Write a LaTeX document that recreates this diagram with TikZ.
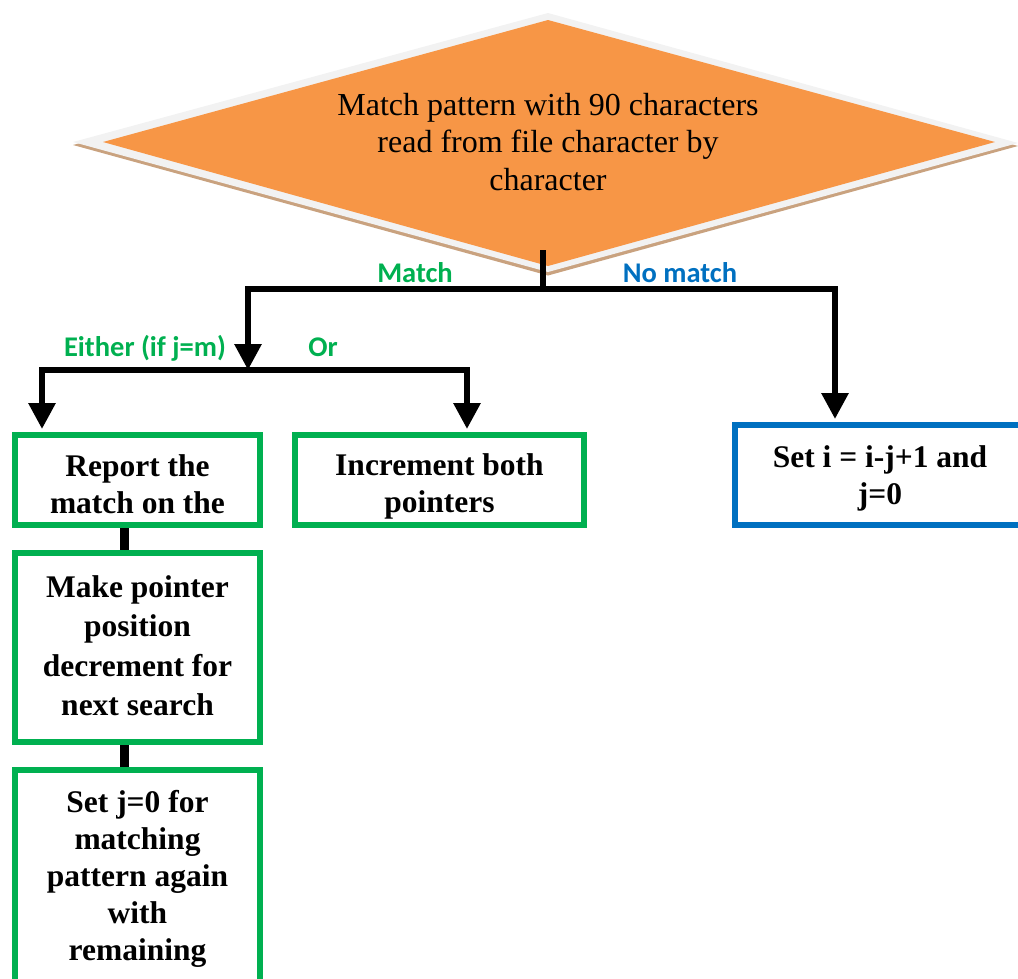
\documentclass[tikz,border=0pt]{standalone}
\usepackage{fontspec}
\setmainfont{Liberation Serif}
\newfontfamily\lblfont{Carlito}
\usetikzlibrary{arrows.meta}
\definecolor{dorange}{HTML}{F79646}
\definecolor{dedge}{HTML}{F2F2F2}
\definecolor{dshadow}{HTML}{C9A27F}
\definecolor{boxgreen}{HTML}{00B050}
\definecolor{boxblue}{HTML}{0070C0}
\begin{document}
\begin{tikzpicture}[x=1pt,y=-1pt,
  box/.style={draw, line width=6pt, inner sep=0pt},
  gbox/.style={box, draw=boxgreen},
  bbox/.style={box, draw=boxblue},
  boxtext/.style={align=center, inner sep=0pt, font=\fontsize{31.5}{37}\selectfont\bfseries},
  conn/.style={line width=6pt, -{Triangle[width=26pt,length=26pt]}},
  plain/.style={line width=6pt},
  lbl/.style={font=\lblfont\bfseries\fontsize{28.5}{32}\selectfont, anchor=base, inner sep=0pt}
]
\useasboundingbox (0,0) rectangle (1018,978);
% decision diamond
\fill[dshadow] (548,16) -- (1018,146) -- (548,275.5) -- (73,145) -- cycle;
\fill[dedge] (548,13) -- (1018,143) -- (548,272) -- (73,142) -- cycle;
\fill[dorange] (548,20) -- (995,142) -- (548,266) -- (103,142) -- cycle;
\node[font=\fontsize{32}{37.5}\selectfont, align=center, inner sep=0pt] (q) at (548,142)
  {Match pattern with 90 characters\\read from file character by\\character};
% boxes
\node[gbox, minimum width=245pt, minimum height=90pt] (report) at (137.5,480) {};
\node[boxtext] (reportt) at ([yshift=-4pt]report.center) {Report the\\match on the};
\node[gbox, minimum width=289pt, minimum height=90pt] (incr) at (439.5,480) {};
\node[boxtext] (incrt) at ([yshift=-6.5pt]incr.center) {Increment both\\pointers};
\node[bbox, minimum width=290pt, minimum height=100pt] (reset) at (880,475) {};
\node[boxtext] (resett) at ([yshift=-3pt]reset.center) {Set i = i-j+1 and\\j=0};
\node[gbox, minimum width=245pt, minimum height=189pt] (make) at (137.5,647.5) {};
\node[boxtext, font=\fontsize{31.5}{39.5}\selectfont\bfseries] (maket) at ([yshift=2pt]make.center)
  {Make pointer\\position\\decrement for\\next search};
\node[gbox, minimum width=245pt, minimum height=220pt] (setj) at (137.5,880) {};
\node[boxtext] (setjt) at ([yshift=1pt]setj.center)
  {Set j=0 for\\matching\\pattern again\\with\\remaining};
% connectors
\coordinate (stem) at (543,250);
\coordinate (j1) at (543,289);
\coordinate (j2) at (248,370);
\draw[plain] (stem) -- (j1);
\draw[conn] (j1) -| (j2);
\draw[conn] (j1) -| ([xshift=-45pt,yshift=3pt]reset.north);
\draw[conn] (j2) -| ([xshift=-95.5pt,yshift=3pt]report.north);
\draw[conn] (j2) -| ([xshift=27.5pt,yshift=3pt]incr.north);
\draw[line width=9pt] ([xshift=-13.5pt]report.south) -- ([xshift=-13.5pt]make.north);
\draw[line width=9pt] ([xshift=-13.5pt]make.south) -- ([xshift=-13.5pt]setj.north);
% labels
\node[lbl, text=boxgreen] (lmatch) at (415,282) {Match};
\node[lbl, text=boxblue] (lnomatch) at (680,282) {No match};
\node[lbl, text=boxgreen] (leither) at (145,356) {Either (if j=m)};
\node[lbl, text=boxgreen] (lor) at (323,356) {Or};
\end{tikzpicture}
\end{document}
